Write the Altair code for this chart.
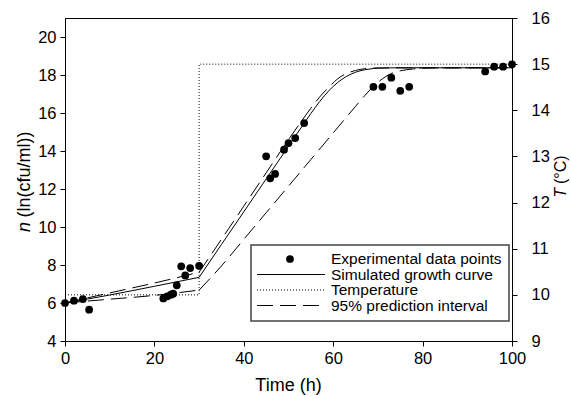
import altair as alt
import pandas as pd

FONT = "Liberation Sans"

# ---------------- data ----------------
exp_time = [0, 2, 4, 5.4, 22, 22.9, 23.7, 24.2, 25, 26, 26.9, 28, 30,
            45, 45.9, 47, 49, 50, 51.5, 53.5, 69, 71, 73, 75, 77, 94, 96, 98, 100]
exp_n = [6.0, 6.12, 6.21, 5.65, 6.24, 6.35, 6.44, 6.49, 6.93, 7.93, 7.45, 7.84, 7.96,
         13.72, 12.56, 12.79, 14.07, 14.42, 14.68, 15.47, 17.38, 17.38, 17.86, 17.17, 17.38,
         18.19, 18.44, 18.44, 18.56]

sim_lag_t = [0, 10, 20, 30]
sim_lag_n = [6.0, 6.42, 6.88, 7.35]
sim_grow_t = [30, 35, 40, 45, 50, 54, 56, 58, 60, 62, 64, 66, 68, 70, 75, 100]
sim_grow_n = [7.35, 9.08, 10.8, 12.53, 14.25, 15.63, 16.3, 16.9, 17.4, 17.78, 18.05,
              18.22, 18.31, 18.36, 18.38, 18.38]

upper_lag_t = [0, 10, 15, 20, 25, 30]
upper_lag_n = [6.0, 6.53, 6.79, 7.05, 7.33, 7.62]
upper_grow_t = [30, 35, 40, 45, 50, 53, 55, 57, 59, 61, 63, 65, 67, 70, 100]
upper_grow_n = [7.62, 9.35, 11.1, 12.85, 14.6, 15.6, 16.25, 16.85, 17.35, 17.8, 18.08,
                18.24, 18.33, 18.37, 18.38]

lower_lag_t = [0, 10, 20, 30]
lower_lag_n = [6.0, 6.2, 6.4, 6.68]
lower_grow_t = [30, 35, 40, 45, 50, 55, 60, 65, 67, 69, 71, 73, 75, 78, 82, 100]
lower_grow_n = [6.68, 7.95, 9.35, 10.75, 12.15, 13.55, 14.95, 16.35, 16.9, 17.4, 17.8,
                18.08, 18.22, 18.32, 18.37, 18.38]

temp_t = [0, 30, 30, 100]
temp_c = [10, 10, 15, 15]

x_ticks = [0, 20, 40, 60, 80, 100]
n_ticks = [4, 6, 8, 10, 12, 14, 16, 18, 20]
c_ticks = [9, 10, 11, 12, 13, 14, 15, 16]

legend_labels = ["Experimental data points", "Simulated growth curve",
                 "Temperature", "95% prediction interval"]
x_title = "Time (h)"
n_title = ["n", "(ln(cfu/ml))"]
c_title = ["T", "(°C)"]

# ---------------- tables ----------------
df_pts = pd.DataFrame({"t": exp_time, "n": exp_n})


def seg(ts, ns, name):
    return pd.DataFrame({"t": ts, "n": ns, "seg": name})


df_sim = pd.concat([seg(sim_lag_t, sim_lag_n, "lag"), seg(sim_grow_t, sim_grow_n, "grow")])
df_band = pd.concat([
    seg(upper_lag_t, upper_lag_n, "ul"), seg(upper_grow_t, upper_grow_n, "ug"),
    seg(lower_lag_t, lower_lag_n, "ll"), seg(lower_grow_t, lower_grow_n, "lg"),
])
df_temp = pd.DataFrame({"t": temp_t, "c": temp_c, "i": list(range(len(temp_t)))})
one = pd.DataFrame({"k": [0]})

DASH = [16, 7]
DOT = [1, 2]

x_enc = alt.X("t:Q", title=None,
              scale=alt.Scale(domain=[0, 100], nice=False, zero=False),
              axis=alt.Axis(values=x_ticks, format="d", labelPadding=4))
y_n = alt.Y("n:Q", title=None,
            scale=alt.Scale(domain=[4, 21], nice=False, zero=False),
            axis=alt.Axis(orient="left", values=n_ticks, labelPadding=4))
y_c = alt.Y("c:Q", title=None,
            scale=alt.Scale(domain=[9, 16], nice=False, zero=False),
            axis=alt.Axis(orient="right", values=c_ticks, labelPadding=14))

band = alt.Chart(df_band).mark_line(color="black", strokeWidth=1, strokeDash=DASH,
                                    interpolate="monotone").encode(
    x=x_enc, y=y_n, detail="seg:N")
sim = alt.Chart(df_sim).mark_line(color="black", strokeWidth=1,
                                  interpolate="monotone").encode(
    x=x_enc, y=y_n, detail="seg:N")
pts = alt.Chart(df_pts).mark_circle(size=60, color="black", opacity=1).encode(x=x_enc, y=y_n)

left = alt.layer(band, sim, pts)

temp = alt.Chart(df_temp).mark_line(color="black", strokeWidth=1, strokeDash=DOT).encode(
    x=x_enc, y=y_c, order=alt.Order("i:Q"))

# ---------------- manual legend (pixel values relative to the plot area) ----------------
box = alt.Chart(one).mark_rect(fill="white", stroke="#444444", strokeWidth=1.5).encode(
    x=alt.value(186), x2=alt.value(444), y=alt.value(227), y2=alt.value(303))
leg_dot = alt.Chart(one).mark_circle(size=60, color="black", opacity=1).encode(
    x=alt.value(225), y=alt.value(241))
leg_solid = alt.Chart(one).mark_rule(color="black", strokeWidth=1).encode(
    x=alt.value(192), x2=alt.value(260), y=alt.value(256.5))
leg_dot_line = alt.Chart(one).mark_rule(color="black", strokeWidth=1, strokeDash=DOT).encode(
    x=alt.value(192), x2=alt.value(260), y=alt.value(272))
leg_dash = alt.Chart(one).mark_rule(color="black", strokeWidth=1, strokeDash=DASH).encode(
    x=alt.value(192), x2=alt.value(260), y=alt.value(287.5))

leg_y = [241, 256.5, 272, 287.5]
leg_texts = [
    alt.Chart(one).mark_text(align="left", baseline="middle", font=FONT, fontSize=15.5,
                             color="black").encode(
        x=alt.value(266), y=alt.value(yy), text=alt.value(lab))
    for lab, yy in zip(legend_labels, leg_y)
]

# ---------------- axis titles (text marks, to allow italic symbols) ----------------
def rot_text(txt, x, y, align, italic, size, dx=0):
    kw = dict(align=align, baseline="middle", font=FONT, fontSize=size, angle=270,
              color="black", dx=dx)
    if italic:
        kw["fontStyle"] = "italic"
    return alt.Chart(one).mark_text(**kw).encode(
        x=alt.value(x), y=alt.value(y), text=alt.value(txt))


titles = [
    rot_text(n_title[0], -40, 204, "right", True, 18),
    rot_text(n_title[1], -40, 204, "left", False, 18, dx=4.5),
    rot_text(c_title[0], 496, 170, "right", True, 16),
    rot_text(c_title[1], 496, 170, "left", False, 16, dx=4),
    alt.Chart(one).mark_text(align="center", baseline="middle", font=FONT, fontSize=18,
                             fontWeight="normal", color="black").encode(
        x=alt.value(223.5), y=alt.value(368), text=alt.value(x_title)),
]

chart = alt.layer(
    left, temp, box, leg_dot, leg_solid, leg_dot_line, leg_dash, *leg_texts, *titles
).resolve_scale(y="independent").properties(
    width=447, height=323,
    autosize=alt.AutoSizeParams(type="none"),
    padding={"left": 65, "top": 18, "right": 59, "bottom": 55},
).configure_view(
    stroke="black", strokeWidth=1
).configure_axis(
    grid=False, domainColor="black", domainWidth=1, tickColor="black", tickWidth=1,
    tickSize=5, labelColor="black", labelFont=FONT, labelFontSize=16.5, labelFlush=False,
)

chart.save("out.html", embed_options={"renderer": "svg", "actions": False})
